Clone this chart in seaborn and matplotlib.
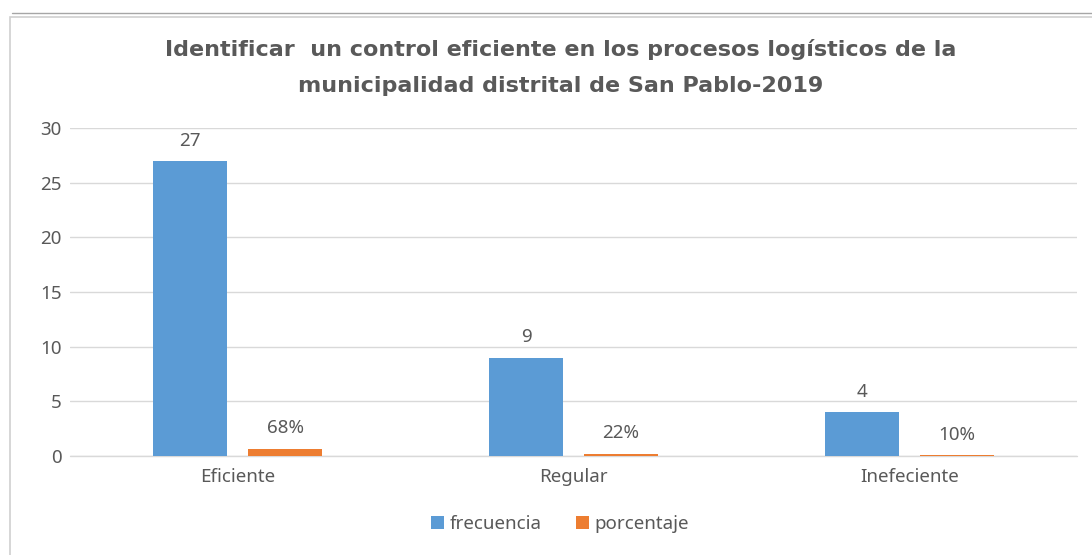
import matplotlib
matplotlib.use("Agg")
import matplotlib.pyplot as plt
import seaborn as sns
import pandas as pd
from matplotlib.patches import Rectangle, Patch

categories = ["Eficiente", "Regular", "Inefeciente"]
frecuencia = [27, 9, 4]
porcentaje = [0.68, 0.22, 0.10]
pct_labels = ["68%", "22%", "10%"]
series = ["frecuencia", "porcentaje"]
colors = ["#5B9BD5", "#ED7D31"]

df = pd.DataFrame({
    "cat": categories * 2,
    "serie": [series[0]] * 3 + [series[1]] * 3,
    "valor": frecuencia + porcentaje,
})

sns.set_theme(style="white")
plt.rcParams["font.family"] = ["Noto Sans", "DejaVu Sans"]
gray = "#595959"
fs = 13.5

fig = plt.figure(figsize=(10.92, 5.55), dpi=100)
ax = fig.add_axes([70 / 1092, 1 - 456 / 555, (1077 - 70) / 1092, (456 - 128) / 555])

sns.barplot(data=df, x="cat", y="valor", hue="serie", order=categories,
            hue_order=series, palette=colors, width=0.566, gap=0.22,
            saturation=1, ax=ax, legend=False, zorder=3, linewidth=0,
            edgecolor="none")

ax.set_xlim(-0.5, 2.5)
ax.set_ylim(0, 30)
ax.set_yticks(range(0, 31, 5))
ax.yaxis.grid(True, color="#D9D9D9", linewidth=1, zorder=0)
ax.axhline(0, color="#D9D9D9", linewidth=1, zorder=1, clip_on=False)
ax.set_axisbelow(True)
for s in ["top", "right", "left", "bottom"]:
    ax.spines[s].set_visible(False)
ax.tick_params(axis="both", length=0, colors=gray, labelsize=fs)
ax.tick_params(axis="x", pad=9)
ax.tick_params(axis="y", pad=6)
ax.set_xlabel("")
ax.set_ylabel("")

ax.bar_label(ax.containers[0], labels=[str(v) for v in frecuencia],
             padding=8, color=gray, fontsize=fs)
ax.bar_label(ax.containers[1], labels=pct_labels,
             padding=8, color=gray, fontsize=fs)

title_kw = dict(ha="center", va="center", fontsize=16, fontweight="bold",
                color=gray, family=["DejaVu Sans"])
fig.text(0.513, 1 - 50 / 555, "Identificar  un control eficiente en los procesos logísticos de la", **title_kw)
fig.text(0.513, 1 - 86 / 555, "municipalidad distrital de San Pablo-2019", **title_kw)

handles = [Patch(facecolor=c, edgecolor="none") for c in colors]
fig.legend(handles, series, loc="center", bbox_to_anchor=(560 / 1092, 1 - 524 / 555),
           ncol=2, frameon=False, fontsize=fs, labelcolor=gray,
           handlelength=0.7, handleheight=0.7, handletextpad=0.3, columnspacing=1.8)

fig.patches.append(Rectangle((10 / 1092, -0.02), 1.1, 1 - 17 / 555 + 0.02,
                             transform=fig.transFigure, fill=False,
                             edgecolor="#D0D0D0", linewidth=1.2))
fig.lines.append(plt.Line2D([12 / 1092, 1], [1 - 13 / 555] * 2, transform=fig.transFigure,
                            color="#A6A6A6", linewidth=1))

fig.savefig("out.png", dpi=100)
